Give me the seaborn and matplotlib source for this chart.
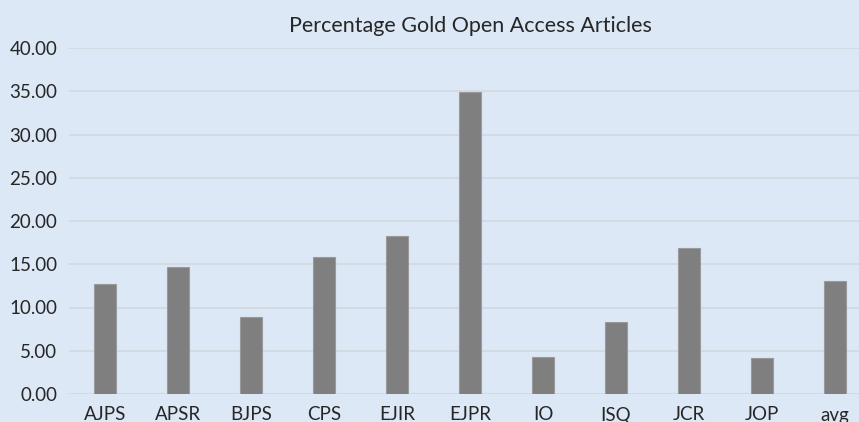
import pandas as pd
import matplotlib
matplotlib.use('Agg')
import matplotlib.pyplot as plt
import seaborn as sns

journals = ['AJPS', 'APSR', 'BJPS', 'CPS', 'EJIR', 'EJPR', 'IO', 'ISQ', 'JCR', 'JOP', 'avg']
gold_pct = [12.68, 14.65, 8.94, 15.87, 18.30, 34.88, 4.28, 8.29, 16.84, 4.12, 13.10]

df = pd.DataFrame({'journal': journals, 'pct': gold_pct})

sns.set_style('white')
plt.rcParams['font.family'] = ['Lato', 'DejaVu Sans']

bg = '#dde8f6'
fig = plt.figure(figsize=(8.59, 4.22), dpi=100, facecolor=bg)
ax = fig.add_axes([68.5 / 859, 1 - 394 / 422, 803 / 859, 346 / 422])
ax.set_facecolor(bg)

sns.barplot(data=df, x='journal', y='pct', color='#7f7f7f', width=0.315,
            saturation=1, edgecolor='#9a9a9a', linewidth=0.8, ax=ax, zorder=3)

ax.set_ylim(0, 40)
ax.set_xlim(-0.5, 10.5)
ax.set_yticks(range(0, 41, 5))
ax.set_yticklabels([f'{v:.2f}' for v in range(0, 41, 5)])
ax.yaxis.grid(True, color='#d4d9e0', linewidth=1.3, zorder=0)
ax.set_axisbelow(True)
for s in ax.spines.values():
    s.set_visible(False)
ax.tick_params(axis='both', length=0, labelsize=13.5, colors='#262626', pad=8)
ax.tick_params(axis='x', pad=9)
ax.set_xlabel('')
ax.set_ylabel('')

fig.text(470 / 859, 1 - 26 / 422, 'Percentage Gold Open Access Articles',
         ha='center', va='center', fontsize=15.5, color='#262626')

fig.savefig('out.png', dpi=100, facecolor=bg)
